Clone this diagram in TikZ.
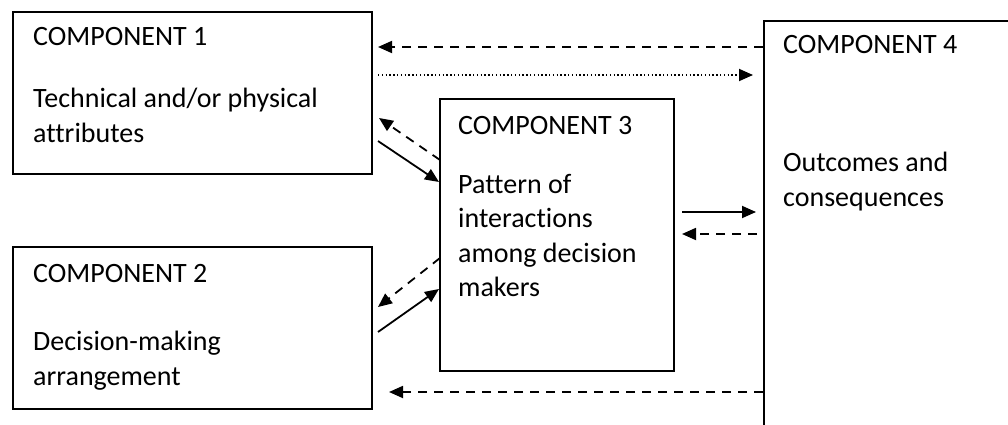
\documentclass[tikz,border=0pt]{standalone}
\usepackage{fontspec}
\setmainfont{Carlito}[Ligatures=NoCommon]
\usetikzlibrary{arrows.meta}
\begin{document}
\begin{tikzpicture}[x=1pt,y=-1pt,
  box/.style={draw,line width=1.6pt,rectangle,anchor=north west,inner sep=0pt},
  lbl/.style={anchor=base west,inner sep=0pt,font=\fontsize{28}{34.5}\selectfont},
  solidarr/.style={line width=1.8pt,-{Triangle[length=14pt,width=12pt]}},
  dasharr/.style={solidarr,dash pattern=on 9pt off 7pt},
  dotarr/.style={solidarr,dash pattern=on 1.4pt off 2.4pt}]
\useasboundingbox (0,0) rectangle (1008,425);
% boxes
\node[box, minimum width=359pt, minimum height=162pt] (c1) at (12,11) {};
\node[box, minimum width=359pt, minimum height=162pt] (c2) at (12,246) {};
\node[box, minimum width=234pt, minimum height=272pt] (c3) at (439,98) {};
\begin{scope}
\clip (0,0) rectangle (1008,425);
\node[box, minimum width=320pt, minimum height=450pt] (c4) at (763,20) {};
\end{scope}
% labels
\node[lbl] (t1a) at (33,46) {COMPONENT 1};
\node[lbl] (t1b) at (33,107) {Technical and/or physical};
\node[lbl] (t1c) at (33,142) {attributes};
\node[lbl] (t2a) at (33,282) {COMPONENT 2};
\node[lbl] (t2b) at (33,350) {Decision-making};
\node[lbl] (t2c) at (33,385) {arrangement};
\node[lbl] (t3a) at (458,135) {COMPONENT 3};
\node[lbl] (t3b) at (458,193) {Pattern of};
\node[lbl] (t3c) at (458,227) {interactions};
\node[lbl] (t3d) at (458,262) {among decision};
\node[lbl] (t3e) at (458,296) {makers};
\node[lbl] (t4a) at (783,54) {COMPONENT 4};
\node[lbl] (t4b) at (783,171) {Outcomes and};
\node[lbl] (t4c) at (783,206) {consequences};
% connector end points
\coordinate (p1s) at (763,47);  \coordinate (p1e) at (378,47);
\coordinate (p2s) at (378,75);  \coordinate (p2e) at (753,75);
\coordinate (p3s) at (440,160); \coordinate (p3e) at (379,118);
\coordinate (p4s) at (378,141); \coordinate (p4e) at (439,182);
\coordinate (p5s) at (440,258); \coordinate (p5e) at (378,307);
\coordinate (p6s) at (378,332); \coordinate (p6e) at (439,289);
\coordinate (p7s) at (682,212); \coordinate (p7e) at (756,212);
\coordinate (p8s) at (757,234); \coordinate (p8e) at (682,234);
\coordinate (p9s) at (763,392); \coordinate (p9e) at (389,392);
% connectors
\draw[dasharr] (p1s) -- (p1e);
\draw[dotarr] (p2s) -- (p2e);
\draw[dasharr] (p3s) -- (p3e);
\draw[solidarr] (p4s) -- (p4e);
\draw[dasharr] (p5s) -- (p5e);
\draw[solidarr] (p6s) -- (p6e);
\draw[solidarr] (p7s) -- (p7e);
\draw[dasharr] (p8s) -- (p8e);
\draw[dasharr] (p9s) -- (p9e);
\end{tikzpicture}
\end{document}
